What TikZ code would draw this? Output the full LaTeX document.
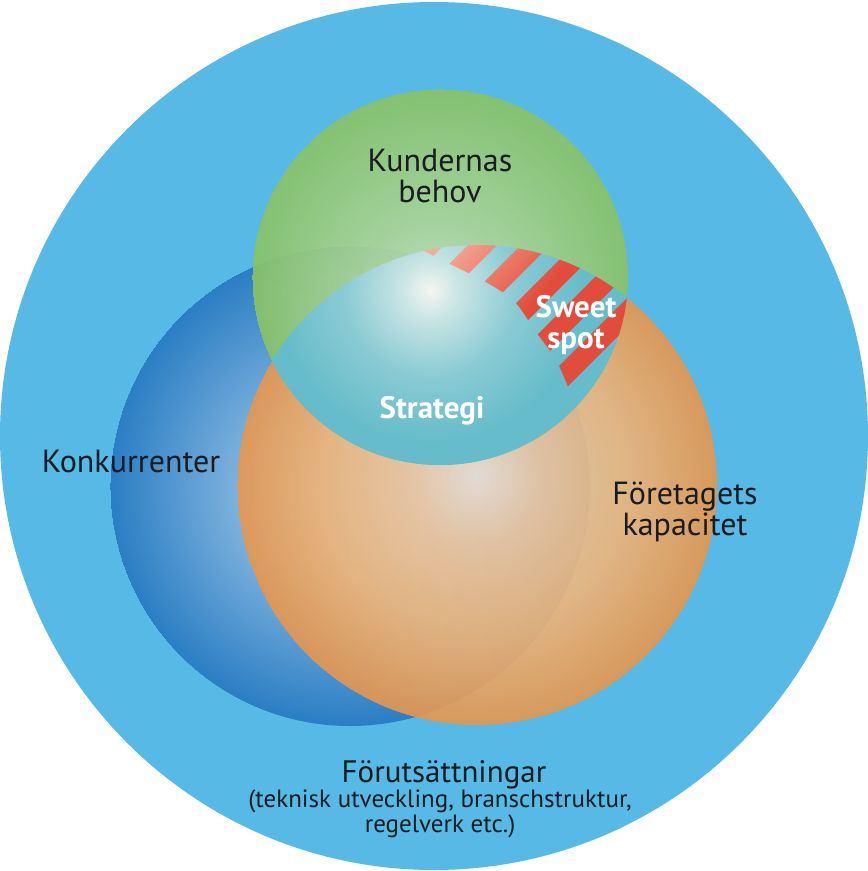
\documentclass[tikz,border=0pt]{standalone}
\usepackage{fontspec}
\setmainfont{PT Sans}
\usetikzlibrary{positioning}

\definecolor{skyblue}{RGB}{86,185,230}
\definecolor{konkdark}{RGB}{42,126,196}
\definecolor{konklight}{RGB}{146,190,228}
\definecolor{kapdark}{RGB}{230,150,78}
\definecolor{kapmid}{RGB}{238,180,120}
\definecolor{kaplight}{RGB}{240,224,212}
\definecolor{kunddark}{RGB}{136,194,104}
\definecolor{kundlight}{RGB}{214,235,210}
\definecolor{stratdark}{RGB}{102,188,202}
\definecolor{stratlight}{RGB}{244,246,240}
\definecolor{spotred}{RGB}{226,76,60}
\definecolor{spotpale}{RGB}{243,172,152}
\definecolor{labeltext}{RGB}{25,28,32}

% radial shadings: the path edge sits at 25bp
\pgfdeclareradialshading{konkball}{\pgfpoint{-3bp}{-1bp}}{color(0bp)=(konklight); color(9bp)=(konklight!85!konkdark); color(25bp)=(konkdark)}
\pgfdeclareradialshading{kapball}{\pgfpoint{0bp}{1bp}}{color(0bp)=(kaplight); color(7bp)=(kaplight!40!kapmid); color(16bp)=(kapmid); color(25bp)=(kapdark)}
\pgfdeclareradialshading{kundball}{\pgfpoint{-1bp}{-7bp}}{color(0bp)=(kundlight); color(11bp)=(kundlight!45!kunddark); color(25bp)=(kunddark)}
\pgfdeclareradialshading{stratball}{\pgfpoint{0bp}{0bp}}{color(0bp)=(stratlight); color(3bp)=(stratlight!70!stratdark); color(9bp)=(stratlight!25!stratdark); color(16bp)=(stratdark); color(25bp)=(stratdark)}
% stripes fade out towards the upper left
\pgfdeclarehorizontalshading{spotfade}{100bp}{color(0bp)=(spotpale); color(27bp)=(spotpale); color(50bp)=(spotred); color(100bp)=(spotred)}

\begin{document}
\begin{tikzpicture}[
  x=1pt, y=-1pt,
  lbl/.style={text=labeltext,font=\fontsize{32}{31}\selectfont,align=center,inner sep=0pt},
  whitelbl/.style={text=white,font=\bfseries\fontsize{31}{31}\selectfont,align=center,inner sep=0pt},
  sublbl/.style={text=labeltext,font=\fontsize{25}{25}\selectfont,align=center,inner sep=0pt}
]
  \useasboundingbox (0,0) rectangle (868,871);
  \coordinate (world) at (434,436);
  \coordinate (konk) at (350,486);
  \coordinate (kap) at (477,485);
  \coordinate (kund) at (440,277);
  \coordinate (hilite) at (430,290);

  % background and the three circles
  \fill[skyblue] (world) circle[radius=434pt];
  \shade[shading=konkball] (konk) circle[radius=240pt];
  \shade[shading=kapball,fill opacity=.9] (kap) circle[radius=240pt];
  \shade[shading=kundball,fill opacity=.92] (kund) circle[radius=188pt];

  % strategy lens
  \begin{scope}
    \clip (kund) circle[radius=188pt];
    \clip (kap) circle[radius=240pt];
    \shade[shading=stratball] (hilite) circle[radius=240pt];
  \end{scope}

  % sweet spot stripes
  \begin{scope}
    \clip (kund) circle[radius=188pt];
    \clip (kap) circle[radius=240pt];
    \clip plot[smooth] coordinates {(395,236) (448,263) (484,281) (514,301) (536,332) (556,360) (572,396) (590,440)}
      -- (720,440) -- (720,200) -- (395,200) -- cycle;
    \foreach \k [evaluate=\k as \s using 660+53*\k] in {0,...,5} {
      \begin{scope}
        \clip (\s-200,200) -- (\s-171,200) -- (\s-471,500) -- (\s-500,500) -- cycle;
        \shade[shading=spotfade,shading angle=-40] (395,225) rectangle (640,420);
      \end{scope}
    }
  \end{scope}

  % labels
  \node[lbl,anchor=base] (kundtext) at (440,202) {Kundernas\\behov};
  \node[whitelbl,anchor=base] (strattext) at (432,418) {Strategi};
  \node[whitelbl,anchor=base] (spottext) at (576,348) {Sweet\\spot};
  \node[lbl,anchor=base] (konktext) at (131,472) {Konkurrenter};
  \node[lbl,anchor=base] (kaptext) at (685,535) {Företagets\\kapacitet};
  \node[lbl,font=\fontsize{31}{31}\selectfont,anchor=base] (worldtext) at (444,782) {Förutsättningar};
  \node[sublbl,anchor=base] (worldsub) at (440,832) {(teknisk utveckling, branschstruktur,\\regelverk etc.)};
\end{tikzpicture}
\end{document}
